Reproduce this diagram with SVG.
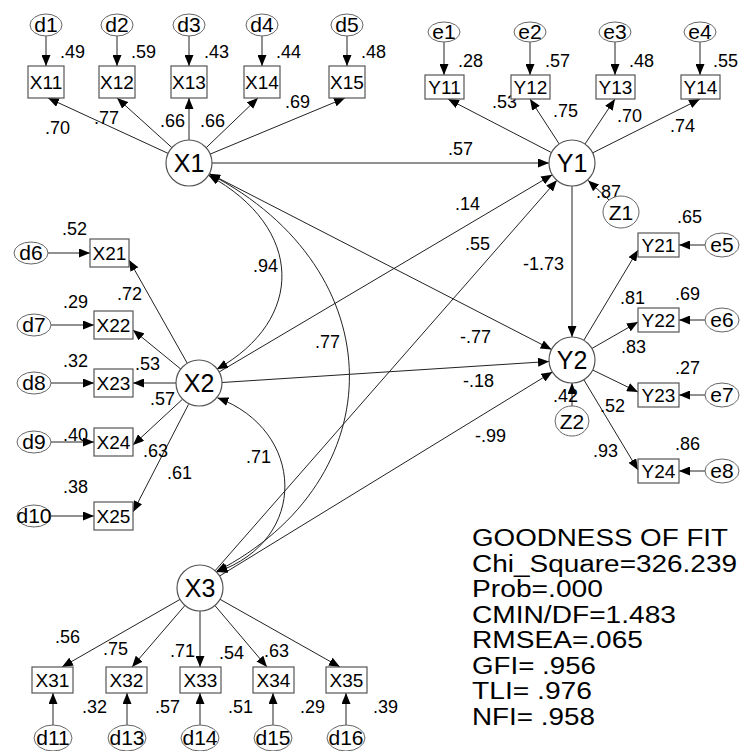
<svg xmlns="http://www.w3.org/2000/svg" width="742" height="751" viewBox="0 0 742 751">
<defs>
<marker id="ah" viewBox="0 0 11 9" refX="11" refY="4.5" markerWidth="11" markerHeight="9" markerUnits="userSpaceOnUse" orient="auto-start-reverse"><path d="M0,0 L11,4.5 L0,9 Z" fill="#000"/></marker>
</defs>
<style>
text{font-family:"Liberation Sans",Arial,sans-serif;fill:#000}
.box{fill:#fff;stroke:#555;stroke-width:1.2}
.lat{fill:#fff;stroke:#555;stroke-width:1.2}
.err{fill:#fff;stroke:#666;stroke-width:1}
.bl{font-size:19px;text-anchor:middle}
.ll{font-size:25px;text-anchor:middle}
.el{font-size:21px;text-anchor:middle}
.num{font-size:18px}
.fit{font-size:23.5px}
.cn line,.cn path{stroke:#222;stroke-width:1;fill:none;marker-end:url(#ah)}
.cn .cv{marker-start:url(#ah)}
</style>
<rect width="742" height="751" fill="#fff"/>
<g id="connectors" class="cn">
<line x1="46" y1="36" x2="46" y2="66"/>
<line x1="117" y1="36" x2="117" y2="66"/>
<line x1="189" y1="36" x2="189" y2="66"/>
<line x1="262" y1="36" x2="262" y2="66"/>
<line x1="347" y1="36" x2="347" y2="66"/>
<line x1="168.1" y1="153.4" x2="48" y2="98"/>
<line x1="171.9" y1="147.6" x2="117" y2="98"/>
<line x1="189" y1="140" x2="189" y2="98"/>
<line x1="206.2" y1="147.7" x2="258" y2="98"/>
<line x1="210.2" y1="154.1" x2="345" y2="98"/>
<line x1="444" y1="42" x2="444" y2="75"/>
<line x1="530" y1="42" x2="530" y2="75"/>
<line x1="615" y1="42" x2="615" y2="75"/>
<line x1="700" y1="42" x2="700" y2="75"/>
<line x1="551.5" y1="152.6" x2="448" y2="99"/>
<line x1="559.2" y1="143.9" x2="530" y2="99"/>
<line x1="585" y1="144" x2="615" y2="99"/>
<line x1="592.6" y1="152.9" x2="700" y2="99"/>
<line x1="609" y1="200" x2="588.1" y2="180.4"/>
<line x1="705" y1="245" x2="679" y2="245"/>
<line x1="705" y1="320" x2="679" y2="320"/>
<line x1="705" y1="395" x2="679" y2="395"/>
<line x1="705" y1="471" x2="679" y2="471"/>
<line x1="583.8" y1="340.3" x2="638" y2="250"/>
<line x1="591.9" y1="348.5" x2="638" y2="322"/>
<line x1="592.7" y1="370" x2="638" y2="392"/>
<line x1="583.8" y1="379.7" x2="638" y2="470"/>
<line x1="572" y1="406" x2="572" y2="383"/>
<line x1="48" y1="253" x2="90" y2="253"/>
<line x1="51" y1="325" x2="94" y2="325"/>
<line x1="51" y1="383" x2="94" y2="383"/>
<line x1="51" y1="442" x2="94" y2="442"/>
<line x1="51" y1="516" x2="94" y2="516"/>
<line x1="187.7" y1="364" x2="129" y2="260"/>
<line x1="181.2" y1="369.4" x2="133" y2="330"/>
<line x1="176" y1="383" x2="133" y2="383"/>
<line x1="182.1" y1="399.6" x2="133" y2="445"/>
<line x1="188.5" y1="404.4" x2="133" y2="512"/>
<line x1="53" y1="725" x2="53" y2="693"/>
<line x1="127" y1="725" x2="127" y2="693"/>
<line x1="200" y1="725" x2="200" y2="693"/>
<line x1="273" y1="725" x2="273" y2="693"/>
<line x1="346" y1="725" x2="346" y2="693"/>
<line x1="180" y1="599.4" x2="62" y2="667"/>
<line x1="185" y1="605.4" x2="132" y2="667"/>
<line x1="200" y1="611" x2="200" y2="667"/>
<line x1="214.9" y1="605.5" x2="267" y2="667"/>
<line x1="220" y1="599.3" x2="340" y2="667"/>
<line x1="212" y1="163" x2="549" y2="163"/>
<line x1="209.4" y1="173.5" x2="551.6" y2="349.5"/>
<line x1="218.8" y1="372.2" x2="552.2" y2="174.8"/>
<line x1="222" y1="382.5" x2="549" y2="361.5"/>
<line x1="215.1" y1="570.7" x2="556.9" y2="180.3"/>
<line x1="219.6" y1="576" x2="552.4" y2="372"/>
<line x1="572" y1="186" x2="572" y2="337"/>
<path class="cv" d="M208.5,175.2 C305,228 305,320 216.7,369.3"/>
<path class="cv" d="M209.2,173.8 C395,270 395,480 216.1,571.7"/>
<path class="cv" d="M217.4,397.8 C305,430 310,540 216.6,572.1"/>
</g>
<g id="labels" class="num">
<text x="60" y="58">.49</text><text x="131" y="58">.59</text><text x="204" y="58">.43</text><text x="276" y="58">.44</text><text x="361" y="58">.48</text>
<text x="45" y="134">.70</text><text x="94" y="124">.77</text><text x="160" y="127">.66</text><text x="200" y="127">.66</text><text x="285" y="108">.69</text>
<text x="458" y="67">.28</text><text x="545" y="67">.57</text><text x="629" y="67">.48</text><text x="713" y="67">.55</text>
<text x="492" y="108">.53</text><text x="553" y="117">.75</text><text x="617" y="122">.70</text><text x="670" y="132">.74</text>
<text x="448" y="155">.57</text><text x="596" y="198">.87</text><text x="523" y="270">-1.73</text>
<text x="455" y="210">.14</text><text x="465" y="250">.55</text><text x="460" y="343">-.77</text><text x="463" y="387">-.18</text><text x="475" y="442">-.99</text>
<text x="677" y="223">.65</text><text x="675" y="300">.69</text><text x="675" y="374">.27</text><text x="675" y="450">.86</text>
<text x="620" y="304">.81</text><text x="621" y="353">.83</text><text x="600" y="412">.52</text><text x="593" y="457">.93</text><text x="553" y="402">.42</text>
<text x="62" y="235">.52</text><text x="63" y="308">.29</text><text x="63" y="367">.32</text><text x="63" y="441">.40</text><text x="63" y="493">.38</text>
<text x="117" y="300">.72</text><text x="135" y="370">.53</text><text x="150" y="405">.57</text><text x="143" y="457">.63</text><text x="167" y="479">.61</text>
<text x="253" y="272">.94</text><text x="315" y="348">.77</text><text x="246" y="463">.71</text>
<text x="55" y="643">.56</text><text x="103" y="655">.75</text><text x="170" y="657">.71</text><text x="219" y="659">.54</text><text x="264" y="657">.63</text>
<text x="82" y="713">.32</text><text x="155" y="713">.57</text><text x="228" y="713">.51</text><text x="300" y="713">.29</text><text x="373" y="713">.39</text>
</g>
<g id="d1"><ellipse class="err" cx="46" cy="25" rx="16" ry="11"/><text class="el" x="46" y="32">d1</text></g>
<g id="d2"><ellipse class="err" cx="117" cy="25" rx="16" ry="11"/><text class="el" x="117" y="32">d2</text></g>
<g id="d3"><ellipse class="err" cx="189" cy="25" rx="16" ry="11"/><text class="el" x="189" y="32">d3</text></g>
<g id="d4"><ellipse class="err" cx="262" cy="25" rx="16" ry="11"/><text class="el" x="262" y="32">d4</text></g>
<g id="d5"><ellipse class="err" cx="347" cy="25" rx="16" ry="11"/><text class="el" x="347" y="32">d5</text></g>
<g id="X11"><rect class="box" x="28" y="66" width="36" height="32"/><text class="bl" x="46" y="89">X11</text></g>
<g id="X12"><rect class="box" x="99" y="66" width="36" height="32"/><text class="bl" x="117" y="89">X12</text></g>
<g id="X13"><rect class="box" x="171" y="66" width="36" height="32"/><text class="bl" x="189" y="89">X13</text></g>
<g id="X14"><rect class="box" x="244" y="66" width="36" height="32"/><text class="bl" x="262" y="89">X14</text></g>
<g id="X15"><rect class="box" x="329" y="66" width="36" height="32"/><text class="bl" x="347" y="89">X15</text></g>
<g id="X1"><circle class="lat" cx="189" cy="163" r="23"/><text class="ll" x="189" y="172">X1</text></g>
<g id="e1"><ellipse class="err" cx="444" cy="32" rx="16" ry="10"/><text class="el" x="444" y="39">e1</text></g>
<g id="e2"><ellipse class="err" cx="530" cy="32" rx="16" ry="10"/><text class="el" x="530" y="39">e2</text></g>
<g id="e3"><ellipse class="err" cx="615" cy="32" rx="16" ry="10"/><text class="el" x="615" y="39">e3</text></g>
<g id="e4"><ellipse class="err" cx="700" cy="32" rx="16" ry="10"/><text class="el" x="700" y="39">e4</text></g>
<g id="Y11"><rect class="box" x="425" y="75" width="39" height="24"/><text class="bl" x="444.5" y="94">Y11</text></g>
<g id="Y12"><rect class="box" x="511" y="75" width="39" height="24"/><text class="bl" x="530.5" y="94">Y12</text></g>
<g id="Y13"><rect class="box" x="596" y="75" width="39" height="24"/><text class="bl" x="615.5" y="94">Y13</text></g>
<g id="Y14"><rect class="box" x="681" y="75" width="39" height="24"/><text class="bl" x="700.5" y="94">Y14</text></g>
<g id="Y1"><circle class="lat" cx="572" cy="163" r="23"/><text class="ll" x="572" y="172">Y1</text></g>
<g id="z1"><ellipse class="err" cx="621" cy="212" rx="18" ry="16"/><text class="el" x="621" y="220">Z1</text></g>
<g id="Y2"><circle class="lat" cx="572" cy="360" r="23"/><text class="ll" x="572" y="369">Y2</text></g>
<g id="z2"><ellipse class="err" cx="572" cy="421" rx="17" ry="15"/><text class="el" x="572" y="429">Z2</text></g>
<g id="Y21"><rect class="box" x="638" y="233" width="41" height="24"/><text class="bl" x="658.5" y="252">Y21</text></g>
<g id="Y22"><rect class="box" x="638" y="308" width="41" height="24"/><text class="bl" x="658.5" y="327">Y22</text></g>
<g id="Y23"><rect class="box" x="638" y="383" width="41" height="24"/><text class="bl" x="658.5" y="402">Y23</text></g>
<g id="Y24"><rect class="box" x="638" y="459" width="41" height="24"/><text class="bl" x="658.5" y="478">Y24</text></g>
<g id="e5"><ellipse class="err" cx="722" cy="245" rx="17" ry="12"/><text class="el" x="722" y="252">e5</text></g>
<g id="e6"><ellipse class="err" cx="722" cy="320" rx="17" ry="12"/><text class="el" x="722" y="327">e6</text></g>
<g id="e7"><ellipse class="err" cx="722" cy="395" rx="17" ry="12"/><text class="el" x="722" y="402">e7</text></g>
<g id="e8"><ellipse class="err" cx="722" cy="471" rx="17" ry="12"/><text class="el" x="722" y="478">e8</text></g>
<g id="d6"><ellipse class="err" cx="31" cy="253" rx="17" ry="11"/><text class="el" x="31" y="260">d6</text></g>
<g id="d7"><ellipse class="err" cx="34" cy="325" rx="17" ry="11"/><text class="el" x="34" y="332">d7</text></g>
<g id="d8"><ellipse class="err" cx="34" cy="383" rx="17" ry="11"/><text class="el" x="34" y="390">d8</text></g>
<g id="d9"><ellipse class="err" cx="34" cy="442" rx="17" ry="11"/><text class="el" x="34" y="449">d9</text></g>
<g id="d10"><ellipse class="err" cx="34" cy="516" rx="17" ry="11"/><text class="el" x="34" y="523">d10</text></g>
<g id="X21"><rect class="box" x="90" y="239" width="39" height="28"/><text class="bl" x="109.5" y="260">X21</text></g>
<g id="X22"><rect class="box" x="94" y="311" width="39" height="28"/><text class="bl" x="113.5" y="332">X22</text></g>
<g id="X23"><rect class="box" x="94" y="369" width="39" height="28"/><text class="bl" x="113.5" y="390">X23</text></g>
<g id="X24"><rect class="box" x="94" y="428" width="39" height="28"/><text class="bl" x="113.5" y="449">X24</text></g>
<g id="X25"><rect class="box" x="94" y="502" width="39" height="28"/><text class="bl" x="113.5" y="523">X25</text></g>
<g id="X2"><circle class="lat" cx="199" cy="383" r="23"/><text class="ll" x="199" y="392">X2</text></g>
<g id="X3"><circle class="lat" cx="200" cy="588" r="23"/><text class="ll" x="200" y="597">X3</text></g>
<g id="X31"><rect class="box" x="32" y="667" width="41" height="26"/><text class="bl" x="52.5" y="687">X31</text></g>
<g id="X32"><rect class="box" x="106" y="667" width="41" height="26"/><text class="bl" x="126.5" y="687">X32</text></g>
<g id="X33"><rect class="box" x="180" y="667" width="41" height="26"/><text class="bl" x="200.5" y="687">X33</text></g>
<g id="X34"><rect class="box" x="253" y="667" width="41" height="26"/><text class="bl" x="273.5" y="687">X34</text></g>
<g id="X35"><rect class="box" x="326" y="667" width="41" height="26"/><text class="bl" x="346.5" y="687">X35</text></g>
<g id="d11"><ellipse class="err" cx="53" cy="738" rx="19" ry="13"/><text class="el" x="53" y="745">d11</text></g>
<g id="d13"><ellipse class="err" cx="127" cy="738" rx="19" ry="13"/><text class="el" x="127" y="745">d13</text></g>
<g id="d14"><ellipse class="err" cx="200" cy="738" rx="19" ry="13"/><text class="el" x="200" y="745">d14</text></g>
<g id="d15"><ellipse class="err" cx="273" cy="738" rx="19" ry="13"/><text class="el" x="273" y="745">d15</text></g>
<g id="d16"><ellipse class="err" cx="346" cy="738" rx="19" ry="13"/><text class="el" x="346" y="745">d16</text></g>
<g id="fit" class="fit">
<text x="472" y="546" textLength="256" lengthAdjust="spacingAndGlyphs">GOODNESS OF FIT</text>
<text x="472" y="572" textLength="265" lengthAdjust="spacingAndGlyphs">Chi_Square=326.239</text>
<text x="472" y="597" textLength="131" lengthAdjust="spacingAndGlyphs">Prob=.000</text>
<text x="472" y="623" textLength="204" lengthAdjust="spacingAndGlyphs">CMIN/DF=1.483</text>
<text x="472" y="648" textLength="171" lengthAdjust="spacingAndGlyphs">RMSEA=.065</text>
<text x="472" y="674" textLength="124" lengthAdjust="spacingAndGlyphs">GFI= .956</text>
<text x="472" y="699" textLength="120" lengthAdjust="spacingAndGlyphs">TLI= .976</text>
<text x="472" y="725" textLength="123" lengthAdjust="spacingAndGlyphs">NFI= .958</text>
</g>
</svg>
